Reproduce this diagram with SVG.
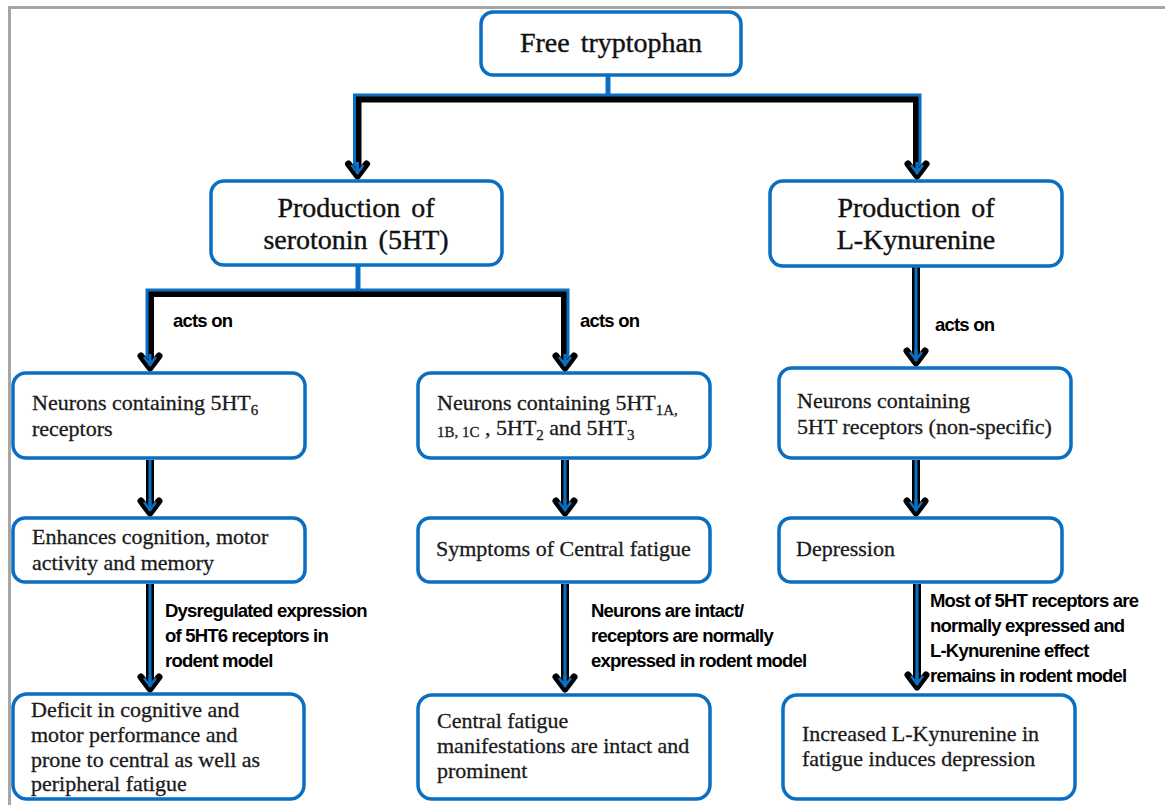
<svg xmlns="http://www.w3.org/2000/svg" xmlns:xlink="http://www.w3.org/1999/xlink" width="1165" height="805" viewBox="0 0 1165 805">
<style>
.box{fill:#fff;stroke:#0a6fc2;stroke-width:3.5}
.hd{font-family:"Liberation Serif","Times New Roman",serif;font-size:28px;fill:#111;stroke:#111;stroke-width:0.4;text-anchor:middle;word-spacing:4px}
.tx{font-family:"Liberation Serif","Times New Roman",serif;font-size:22px;fill:#1a1a1a;stroke:#1a1a1a;stroke-width:0.3}
.sb{font-size:15px}
.lb{font-family:"Liberation Sans",Arial,sans-serif;font-weight:bold;font-size:18.5px;fill:#000;letter-spacing:-0.8px}
.bk{fill:none;stroke:#000;stroke-width:8}
.bl{fill:none;stroke:#0a6fc2;stroke-width:3}
.st{fill:none;stroke:#0a6fc2;stroke-width:5}
</style>
<defs>
<g id="ah">
<path d="M-9,-16 L0,-4 L9,-16" fill="none" stroke="#000" stroke-width="7" stroke-linejoin="round" stroke-linecap="round"/>
<path d="M-6,-15 L0,-7 L6,-15" fill="none" stroke="#0a6fc2" stroke-width="2.5"/>
<path d="M0,-18 V-6" stroke="#0a6fc2" stroke-width="3"/>
</g>
</defs>
<rect width="1165" height="805" fill="#fff"/>
<g id="frame" fill="none" stroke="#a6a6a6" stroke-width="3">
<path d="M8,7.5 H1165 M9.5,6 V805"/>
</g>
<g id="connectors">
<path class="st" d="M608,75 V95"/>
<path class="bk" d="M357.5,168 V98.5 H917 V168"/>
<path class="bl" d="M354.5,168 V95 H920 V168"/>
<use xlink:href="#ah" transform="translate(357.5,180)"/>
<use xlink:href="#ah" transform="translate(917,180)"/>
<path class="st" d="M358,265 V290"/>
<path class="bk" d="M150,360 V293 H565 V360"/>
<path class="bl" d="M147,360 V290 H568 V360"/>
<use xlink:href="#ah" transform="translate(150,372)"/>
<use xlink:href="#ah" transform="translate(565,372)"/>
<path class="bk" d="M916,267 V355"/>
<path class="bl" d="M916,267 V355"/>
<use xlink:href="#ah" transform="translate(916,367)"/>
<path class="bk" d="M150,460 V506 M565,460 V506 M916,460 V506"/>
<path class="bl" d="M150,460 V506 M565,460 V506 M916,460 V506"/>
<use xlink:href="#ah" transform="translate(150,517)"/>
<use xlink:href="#ah" transform="translate(565,517)"/>
<use xlink:href="#ah" transform="translate(916,517)"/>
<path class="bk" d="M150,584 V681 M565,584 V681 M917,584 V679"/>
<path class="bl" d="M150,584 V681 M565,584 V681 M917,584 V679"/>
<use xlink:href="#ah" transform="translate(150,693)"/>
<use xlink:href="#ah" transform="translate(565,693)"/>
<use xlink:href="#ah" transform="translate(917,691)"/>
<text class="lb" x="173" y="327">acts on</text>
<text class="lb" x="580" y="327">acts on</text>
<text class="lb" x="935" y="331">acts on</text>
<text class="lb" x="165" y="617">Dysregulated expression</text>
<text class="lb" x="165" y="642">of 5HT6 receptors in</text>
<text class="lb" x="165" y="667">rodent model</text>
<text class="lb" x="591" y="617">Neurons are intact/</text>
<text class="lb" x="591" y="642">receptors are normally</text>
<text class="lb" x="591" y="667">expressed in rodent model</text>
<text class="lb" x="930" y="607">Most of 5HT receptors are</text>
<text class="lb" x="930" y="632">normally expressed and</text>
<text class="lb" x="930" y="657">L-Kynurenine effect</text>
<text class="lb" x="930" y="682">remains in rodent model</text>
</g>
<g id="free-tryptophan">
<rect class="box" x="481" y="12" width="260" height="63" rx="12"/>
<text class="hd" x="611" y="52">Free tryptophan</text>
</g>
<g id="serotonin">
<rect class="box" x="211" y="181" width="291" height="84" rx="13"/>
<text class="hd" x="356" y="217">Production of</text>
<text class="hd" x="356" y="249">serotonin (5HT)</text>
</g>
<g id="kynurenine">
<rect class="box" x="770" y="181" width="292" height="85" rx="13"/>
<text class="hd" x="916" y="217">Production of</text>
<text class="hd" x="916" y="249">L-Kynurenine</text>
</g>
<g id="a1">
<rect class="box" x="13" y="373" width="292" height="85" rx="13"/>
<text class="tx" x="32" y="410">Neurons containing 5HT<tspan class="sb" dy="5">6</tspan></text>
<text class="tx" x="32" y="436">receptors</text>
</g>
<g id="b1">
<rect class="box" x="418" y="373" width="292" height="85" rx="13"/>
<text class="tx" x="437" y="410">Neurons containing 5HT<tspan class="sb" dy="5">1A,</tspan></text>
<text class="tx" x="437" y="435"><tspan class="sb" dy="2">1B, 1C</tspan><tspan dy="-2"> , 5HT</tspan><tspan class="sb" dy="5">2</tspan><tspan dy="-5"> and 5HT</tspan><tspan class="sb" dy="5">3</tspan></text>
</g>
<g id="c1">
<rect class="box" x="779" y="368" width="292" height="90" rx="13"/>
<text class="tx" x="797" y="408">Neurons containing</text>
<text class="tx" x="797" y="434">5HT receptors (non-specific)</text>
</g>
<g id="a2">
<rect class="box" x="13" y="518" width="292" height="64" rx="12"/>
<text class="tx" x="32" y="544">Enhances cognition, motor</text>
<text class="tx" x="32" y="570">activity and memory</text>
</g>
<g id="b2">
<rect class="box" x="418" y="518" width="292" height="64" rx="12"/>
<text class="tx" x="436" y="556">Symptoms of Central fatigue</text>
</g>
<g id="c2">
<rect class="box" x="779" y="518" width="283" height="64" rx="12"/>
<text class="tx" x="796" y="556">Depression</text>
</g>
<g id="a3">
<rect class="box" x="13" y="694" width="291" height="105" rx="14"/>
<text class="tx" x="31" y="717">Deficit in cognitive and</text>
<text class="tx" x="31" y="742">motor performance and</text>
<text class="tx" x="31" y="767">prone to central as well as</text>
<text class="tx" x="31" y="791">peripheral fatigue</text>
</g>
<g id="b3">
<rect class="box" x="418" y="695" width="292" height="104" rx="14"/>
<text class="tx" x="437" y="728">Central fatigue</text>
<text class="tx" x="437" y="753">manifestations are intact and</text>
<text class="tx" x="437" y="778">prominent</text>
</g>
<g id="c3">
<rect class="box" x="783" y="695" width="292" height="104" rx="14"/>
<text class="tx" x="802" y="741">Increased L-Kynurenine in</text>
<text class="tx" x="802" y="766">fatigue induces depression</text>
</g>
</svg>
